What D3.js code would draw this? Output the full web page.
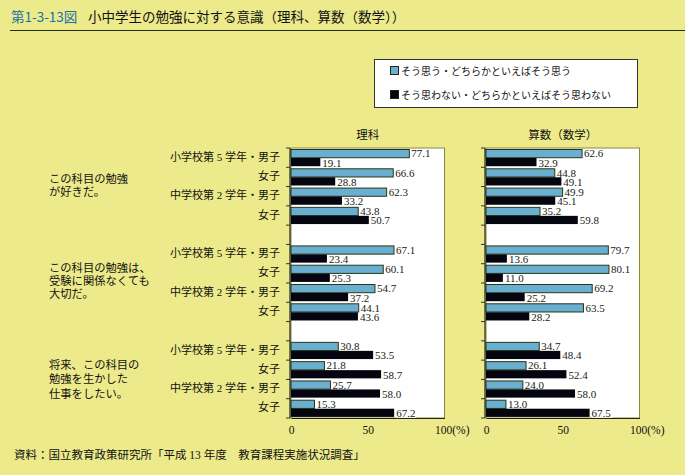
<!DOCTYPE html>
<html><head><meta charset="utf-8">
<script src="https://cdn.jsdelivr.net/npm/d3@7"></script>
<style>
html,body{margin:0;padding:0;background:#ECEA8A;}
svg{display:block;}
</style></head>
<body>
<script>
const rows = ["小学校第 5 学年・男子","女子","中学校第 2 学年・男子","女子"];
const groups = [
  ["この科目の勉強","が好きだ。"],
  ["この科目の勉強は、","受験に関係なくても","大切だ。"],
  ["将来、この科目の","勉強を生かした","仕事をしたい。"]
];
const subjects = ["理科","算数（数学）"];
const seriesNames = ["そう思う・どちらかといえばそう思う","そう思わない・どちらかといえばそう思わない"];
// [group][row] values
const rikaYes = [[77.1,66.6,62.3,43.8],[67.1,60.1,54.7,44.1],[30.8,21.8,25.7,15.3]];
const rikaNo  = [[19.1,28.8,33.2,50.7],[23.4,25.3,37.2,43.6],[53.5,58.7,58.0,67.2]];
const sansuYes = [[62.6,44.8,49.9,35.2],[79.7,80.1,69.2,63.5],[34.7,26.1,24.0,13.0]];
const sansuNo  = [[32.9,49.1,45.1,59.8],[13.6,11.0,25.2,28.2],[48.4,52.4,58.0,67.5]];
const xTicks = [0,50,100];

const W=685,H=475;
const svg=d3.select("body").append("svg").attr("width",W).attr("height",H);
const serif="'Liberation Serif','DejaVu Serif','Noto Sans CJK JP',serif";
const jp="'Noto Sans CJK JP',sans-serif";
const blue="#6AAED0", black="#050510", outline="#26381a";

// title
svg.append("text").attr("x",11).attr("y",22).attr("font-family",jp).attr("font-size",13.5)
  .attr("fill","#1B6FA8").text("第1-3-13図");
svg.append("text").attr("x",88).attr("y",22).attr("font-family",jp).attr("font-size",13.5)
  .attr("fill","#111").text("小中学生の勉強に対する意識（理科、算数（数学））");
svg.append("line").attr("x1",10).attr("x2",685).attr("y1",30.5).attr("y2",30.5)
  .attr("stroke","#223311").attr("stroke-width",1.2);

// legend
const lg=svg.append("g");
lg.append("rect").attr("x",374.5).attr("y",59.5).attr("width",263).attr("height",48)
  .attr("fill","#fff").attr("stroke","#333").attr("stroke-width",1);
[blue,black].forEach((c,i)=>{
  lg.append("rect").attr("x",390.5).attr("y",66.5+i*24).attr("width",8).attr("height",8)
    .attr("fill",c).attr("stroke","#222").attr("stroke-width",1);
  lg.append("text").attr("x",401).attr("y",75+i*24).attr("font-family",jp).attr("font-size",10)
    .attr("fill","#111").text(seriesNames[i]);
});

// y band over 14 slots
const slots=[];
for(let g=0;g<3;g++){for(let r=0;r<4;r++)slots.push(`${g}-${r}`); if(g<2)slots.push(`gap${g}`);}
const y=d3.scaleBand().domain(slots).range([148,418]).paddingInner(0).paddingOuter(0);

// row labels & group labels
const groupShift=[-1,-2,0];
const groupLH=[13,13,14.5];
for(let g=0;g<3;g++){
  rows.forEach((t,r)=>{
    svg.append("text").attr("x",280).attr("y",y(`${g}-${r}`)+y.bandwidth()/2+3)
      .attr("text-anchor","end").attr("font-family",serif).attr("font-size",11)
      .attr("fill","#111").text(t);
  });
  const top=y(`${g}-0`), bot=y(`${g}-3`)+y.bandwidth();
  const mid=(top+bot)/2;
  const lines=groups[g];
  lines.forEach((l,i)=>{
    svg.append("text").attr("x",49).attr("y",mid+(i-(lines.length-1)/2)*groupLH[g]+4+groupShift[g])
      .attr("font-family",serif).attr("font-size",11.3).attr("fill","#111").text(l);
  });
}

const panels=[
  {x0:291,name:subjects[0],yes:rikaYes,no:rikaNo},
  {x0:486,name:subjects[1],yes:sansuYes,no:sansuNo}
];
panels.forEach(p=>{
  const x=d3.scaleLinear().domain([0,100]).range([p.x0,p.x0+153.5]);
  const g=svg.append("g");
  g.append("rect").attr("x",x(0)).attr("y",148).attr("width",x(100)-x(0)).attr("height",270)
    .attr("fill","#fff").attr("stroke","#8a8a3a").attr("stroke-width",1);
  g.append("text").attr("x",(x(0)+x(100))/2).attr("y",139).attr("text-anchor","middle")
    .attr("font-family",serif).attr("font-size",11.5).attr("fill","#111").text(p.name);
  // left axis with ticks at slot boundaries
  g.append("line").attr("x1",x(0)-1).attr("x2",x(0)-1).attr("y1",148).attr("y2",418)
    .attr("stroke","#222").attr("stroke-width",1.2);
  for(let gi=0;gi<3;gi++){
    for(let r=0;r<=4;r++){
      const yy = r<4 ? y(`${gi}-${r}`) : y(`${gi}-3`)+y.bandwidth();
      g.append("line").attr("x1",x(0)-5).attr("x2",x(0)-1).attr("y1",yy).attr("y2",yy)
        .attr("stroke","#333").attr("stroke-width",1);
    }
  }
  // x axis
  const ax=d3.axisBottom(x).tickValues(xTicks).tickSize(0).tickFormat(d=>d===100?"100(%)":d);
  const axg=g.append("g").attr("transform","translate(0,418)").call(ax);
  axg.select(".domain").attr("stroke","#222").attr("stroke-width",1.2);
  axg.selectAll("text").attr("font-family",serif).attr("font-size",11.5).attr("fill","#111")
    .attr("dy","1.15em").attr("text-anchor",d=>d===100?"start":"middle").attr("dx",d=>d===100?"-10":"0");
  // bars
  for(let gi=0;gi<3;gi++){
    for(let r=0;r<4;r++){
      const y0=y(`${gi}-${r}`);
      [[p.yes[gi][r],blue,y0+1.5,7.8],[p.no[gi][r],black,y0+10,8.6]].forEach(([v,c,yy,dy],k)=>{
        g.append("rect").attr("x",x(0)).attr("y",yy).attr("width",x(v)-x(0)).attr("height",8.2)
          .attr("fill",c).attr("stroke",k===0?outline:"none").attr("stroke-width",1);
        const t=g.append("text").attr("x",x(v)+2).attr("y",yy+dy)
          .attr("font-family",serif).attr("font-size",11).attr("fill","#1a1a10")
          .text(v.toFixed(1));
        const bb=t.node().getBBox();
        g.insert("rect",()=>t.node()).attr("x",bb.x).attr("y",bb.y+2.5).attr("width",bb.width+1)
          .attr("height",bb.height-4).attr("fill","#fff");
      });
    }
  }
});

// footnote
svg.append("text").attr("x",14).attr("y",459).attr("font-family",serif).attr("font-size",11.5)
  .attr("fill","#111").text("資料：国立教育政策研究所「平成 13 年度　教育課程実施状況調査」");
</script>
</body></html>
